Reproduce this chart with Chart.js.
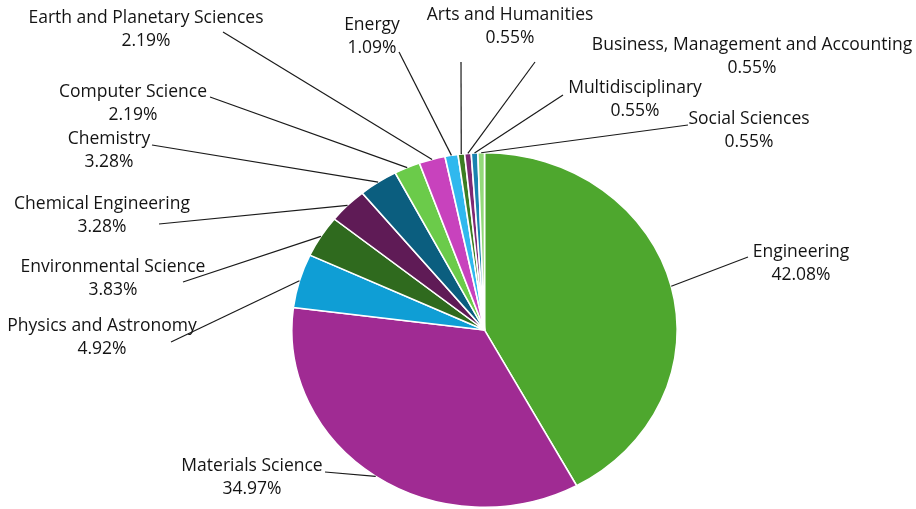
<!DOCTYPE html>
<html>
<head>
<meta charset="utf-8">
<script src="https://cdn.jsdelivr.net/npm/chart.js@4/dist/chart.umd.min.js"></script>
<style>
  html, body { margin: 0; padding: 0; background: #fff; }
  #wrap { width: 916px; height: 509px; position: relative; }
</style>
</head>
<body>
<div id="wrap"><canvas id="subjectPie"></canvas></div>
<script>
const subjects = [
    "Engineering", "Materials Science", "Physics and Astronomy", "Environmental Science",
    "Chemical Engineering", "Chemistry", "Computer Science", "Earth and Planetary Sciences",
    "Energy", "Arts and Humanities", "Business, Management and Accounting",
    "Multidisciplinary", "Social Sciences"
];
const shares = [42.08, 34.97, 4.92, 3.83, 3.28, 3.28, 2.19, 2.19, 1.09, 0.55, 0.55, 0.55, 0.55];
const sliceColors = [
    "#4ea72e", "#a02b93", "#0f9ed5", "#2f6a1e", "#5f1b56", "#0b5e7f", "#6bcb4a",
    "#c842bd", "#30b8ee", "#3c7d22", "#7e2873", "#1982b0", "#93d97a"
];

// label box: text centre x, first line y, leader line start x/y
const labelSpots = [
    [801, 252, 748, 257], [252, 466, 325, 472], [102, 326, 171, 342], [113, 267, 183, 282],
    [102, 204, 159, 224], [109, 139, 152, 145], [133, 92, 210, 97], [146, 18, 223, 32],
    [372, 25, 399, 52], [510, 15, 461, 62], [752, 45, 535, 62], [635, 88, 563, 95],
    [749, 119, 688, 125]
];

const stretchX = 193.5 / 178;

// pie is drawn slightly wider than tall
const stretchPlugin = {
    id: "stretch",
    beforeDatasetsDraw(chart) {
        const arc = chart.getDatasetMeta(0).data[0];
        const ctx = chart.ctx;
        ctx.save();
        ctx.translate(arc.x, arc.y);
        ctx.scale(stretchX, 1);
        ctx.translate(-arc.x, -arc.y);
    },
    afterDatasetsDraw(chart) {
        chart.ctx.restore();
    }
};

const labelPlugin = {
    id: "sliceLabels",
    afterDraw(chart) {
        const ctx = chart.ctx;
        const arcs = chart.getDatasetMeta(0).data;
        ctx.save();
        ctx.font = "17.5px 'Open Sans', sans-serif";
        ctx.textAlign = "center";
        ctx.textBaseline = "middle";
        arcs.forEach((arc, i) => {
            const spot = labelSpots[i];
            const mid = (arc.startAngle + arc.endAngle) / 2;
            const ex = arc.x + Math.cos(mid) * arc.outerRadius * stretchX;
            const ey = arc.y + Math.sin(mid) * arc.outerRadius;
            ctx.strokeStyle = "#1a1a1a";
            ctx.lineWidth = 1.2;
            ctx.beginPath();
            ctx.moveTo(spot[2], spot[3]);
            ctx.lineTo(ex, ey);
            ctx.stroke();
            ctx.fillStyle = "#141414";
            ctx.fillText(subjects[i], spot[0], spot[1]);
            ctx.fillText(shares[i].toFixed(2) + "%", spot[0], spot[1] + 23);
        });
        ctx.restore();
    }
};

new Chart(document.getElementById("subjectPie"), {
    type: "pie",
    data: {
        labels: subjects,
        datasets: [{
            data: shares,
            backgroundColor: sliceColors,
            borderColor: "#ffffff",
            borderWidth: 1.5
        }]
    },
    options: {
        responsive: true,
        maintainAspectRatio: false,
        animation: false,
        layout: { padding: { top: 152, bottom: 1, left: 53, right: 0 } },
        plugins: {
            legend: { display: false },
            tooltip: { enabled: false }
        }
    },
    plugins: [stretchPlugin, labelPlugin]
});
</script>
</body>
</html>
